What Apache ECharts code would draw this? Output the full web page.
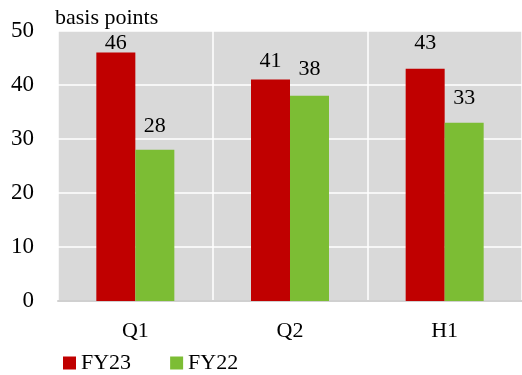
<!DOCTYPE html>
<html>
<head>
<meta charset="utf-8">
<script src="https://cdn.jsdelivr.net/npm/echarts@6/dist/echarts.min.js"></script>
<style>
  html, body { margin: 0; padding: 0; background: #ffffff; }
  #chart { width: 522px; height: 375px; }
</style>
</head>
<body>
<div id="chart"></div>
<script>
// Periods shown on the x axis
const categories = ['Q1', 'Q2', 'H1'];
// Margins in basis points
const fy23 = [46, 41, 43];
const fy22 = [28, 38, 33];
const yTicks = [0, 10, 20, 30, 40, 50];

// Gap (px) between each value label and the top of its bar
const fy23LabelGap = [-2, 7, 15];
const fy22LabelGap = [13, 16, 14];

const FONT = 'Liberation Serif';
const chart = echarts.init(document.getElementById('chart'));

function withLabels(values, gaps) {
  return values.map((v, i) => ({
    value: v,
    label: {
      show: true,
      position: 'top',
      distance: gaps[i],
      color: '#000000',
      fontFamily: FONT,
      fontSize: 22
    }
  }));
}

chart.setOption({
  animation: false,
  textStyle: { fontFamily: FONT },
  grid: {
    left: 58, right: 0, top: 31, bottom: 74,
    show: true, backgroundColor: '#d9d9d9', borderWidth: 0
  },
  title: {
    text: 'basis points',
    left: 55, top: 7, padding: 0,
    textStyle: { fontFamily: FONT, fontSize: 22, fontWeight: 'normal', color: '#000000' }
  },
  legend: {
    left: 63, top: 352, padding: 0,
    itemWidth: 13, itemHeight: 13, itemGap: 39,
    icon: 'rect',
    textStyle: { fontFamily: FONT, fontSize: 22, color: '#000000' },
    data: ['FY23', 'FY22']
  },
  xAxis: {
    type: 'category',
    data: categories,
    axisTick: { show: false },
    axisLine: { show: true, lineStyle: { color: '#d0d0d0', width: 2 } },
    axisLabel: { margin: 19, color: '#000000', fontFamily: FONT, fontSize: 22 },
    splitLine: { show: true, lineStyle: { color: '#ffffff', width: 1.5 } }
  },
  yAxis: {
    type: 'value',
    min: yTicks[0], max: yTicks[yTicks.length - 1], interval: 10,
    axisLine: { show: false },
    axisTick: { show: false },
    axisLabel: { margin: 24, color: '#000000', fontFamily: FONT, fontSize: 23 },
    splitLine: { show: true, lineStyle: { color: '#ffffff', width: 1.5 } }
  },
  series: [
    {
      name: 'FY23', type: 'bar', data: withLabels(fy23, fy23LabelGap),
      barWidth: 39, barGap: '0%',
      itemStyle: { color: '#c00000' }
    },
    {
      name: 'FY22', type: 'bar', data: withLabels(fy22, fy22LabelGap),
      barWidth: 39, barGap: '0%',
      itemStyle: { color: '#7cbd34' }
    }
  ]
});
</script>
</body>
</html>
